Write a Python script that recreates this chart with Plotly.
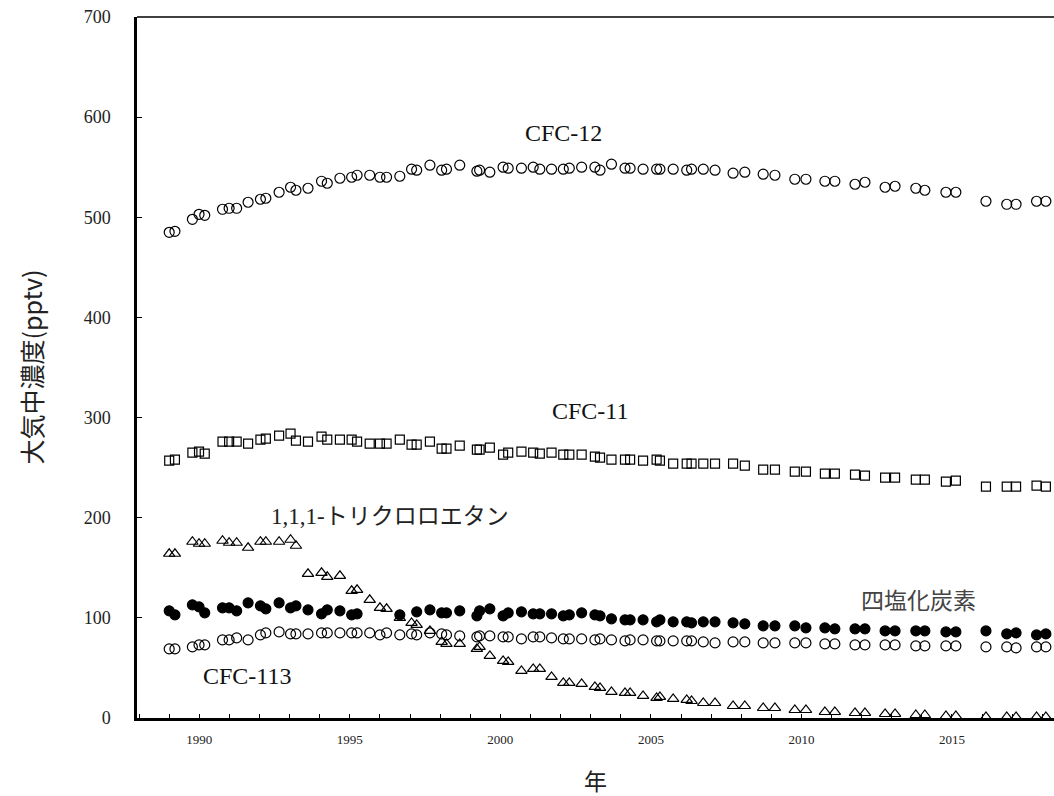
import plotly.graph_objects as go

# sampling dates (decimal years) shared by all series
dates = [1989.00, 1989.19, 1989.77, 1989.99, 1990.18, 1990.77, 1990.99, 1991.24, 1991.62,
         1992.03, 1992.21, 1992.65, 1993.03, 1993.21, 1993.61, 1994.06, 1994.25, 1994.67,
         1995.06, 1995.24, 1995.66, 1996.00, 1996.22, 1996.66, 1997.05, 1997.22, 1997.66,
         1998.05, 1998.21, 1998.65, 1999.22, 1999.31, 1999.65, 2000.09, 2000.26, 2000.70,
         2001.09, 2001.31, 2001.70, 2002.09, 2002.29, 2002.70, 2003.14, 2003.31, 2003.69,
         2004.14, 2004.31, 2004.74, 2005.19, 2005.30, 2005.74, 2006.19, 2006.35, 2006.74,
         2007.13, 2007.73, 2008.12, 2008.73, 2009.12, 2009.78, 2010.15, 2010.78, 2011.11,
         2011.78, 2012.11, 2012.78, 2013.11, 2013.80, 2014.10, 2014.80, 2015.13, 2016.13,
         2016.82, 2017.13, 2017.81, 2018.12]

cfc12 = [485, 486, 498, 503, 502, 508, 509, 509, 515,
         518, 519, 525, 530, 527, 529, 536, 534, 539,
         540, 542, 542, 540, 540, 541, 548, 547, 552,
         547, 548, 552, 546, 547, 545, 550, 549, 549,
         550, 548, 548, 548, 549, 550, 550, 547, 553,
         549, 549, 548, 548, 548, 548, 547, 548, 548,
         547, 544, 545, 543, 542, 538, 538, 536, 536,
         533, 535, 530, 531, 529, 527, 525, 525, 516,
         513, 513, 516, 516]

cfc11 = [257, 258, 265, 266, 264, 276, 276, 276, 274,
         278, 279, 282, 284, 277, 276, 281, 278, 278,
         278, 276, 274, 274, 274, 278, 273, 273, 276,
         269, 269, 272, 268, 268, 270, 263, 265, 266,
         265, 264, 265, 263, 263, 263, 261, 260, 258,
         258, 258, 257, 258, 257, 254, 254, 254, 254,
         254, 254, 252, 248, 248, 246, 246, 244, 244,
         243, 242, 240, 240, 238, 238, 236, 237, 231,
         231, 231, 232, 231]

tce = [164, 164, 176, 174, 174, 177, 175, 175, 170,
       176, 176, 176, 178, 172, 144, 145, 141, 142,
       127, 128, 118, 110, 109, 100, 95, 93, 87,
       76, 74, 74, 69, 71, 62, 57, 56, 47,
       49, 49, 41, 35, 35, 34, 31, 30, 26,
       25, 25, 22, 20, 21, 19, 18, 17, 15,
       15, 12, 12, 10, 10, 8, 8, 6, 6,
       5, 5, 4, 4, 3, 3, 2, 2, 1,
       1, 1, 1, 1]

ccl4 = [107, 103, 113, 111, 105, 110, 110, 107, 115,
        112, 109, 115, 110, 112, 108, 104, 108, 107,
        103, 104, None, None, None, 103, None, 106, 108,
        105, 105, 107, 102, 107, 109, 102, 105, 106,
        104, 104, 104, 102, 103, 105, 103, 102, 99,
        98, 98, 98, 96, 98, 96, 96, 95, 96,
        96, 95, 94, 92, 92, 92, 90, 90, 89,
        89, 89, 87, 87, 87, 87, 86, 86, 87,
        84, 85, 83, 84]

cfc113 = [69, 69, 71, 73, 73, 78, 78, 80, 78,
          83, 85, 86, 84, 84, 84, 85, 85, 85,
          85, 85, 85, 83, 85, 83, 84, 83, 85,
          84, 83, 82, 81, 82, 82, 81, 81, 79,
          81, 81, 80, 79, 79, 79, 78, 79, 78,
          77, 78, 78, 77, 77, 77, 77, 77, 76,
          75, 76, 76, 75, 75, 75, 75, 74, 74,
          73, 73, 73, 73, 72, 72, 72, 72, 71,
          71, 70, 71, 71]

year_ticks = list(range(1988, 2019))
year_labels = [str(y) if y % 5 == 0 else "" for y in year_ticks]
y_ticks = [0, 100, 200, 300, 400, 500, 600, 700]

series_labels = ["CFC-12", "CFC-11", "1,1,1-トリクロロエタン", "四塩化炭素", "CFC-113"]
label_x = [2002.11, 2002.97, 1996.33, 2013.90, 1991.58]
label_y = [584, 306.6, 201.7, 118.8, 42.4]

SERIF = "Times New Roman"
SERIF_CJK = "Times New Roman, Noto Sans CJK JP"
CJK = "Noto Sans CJK JP"

fig = go.Figure()

def add(vals, symbol, size):
    fig.add_trace(go.Scatter(
        x=dates, y=vals, mode="markers", showlegend=False,
        marker=dict(symbol=symbol, size=size, color="black",
                    line=dict(color="black", width=1.2)),
    ))

add(cfc12, "circle-open", 10)
add(cfc11, "square-open", 9)
add(cfc113, "circle-open", 10)
add(tce, "triangle-up-open", 10)
add(ccl4, "circle", 10)

fonts = [dict(family=SERIF, size=24, color="#111"),
         dict(family=SERIF, size=24, color="#111"),
         dict(family=SERIF_CJK, size=23, color="#222"),
         dict(family=CJK, size=23, color="#444"),
         dict(family=SERIF, size=24, color="#111")]
for t, xv, yv, f in zip(series_labels, label_x, label_y, fonts):
    fig.add_annotation(x=xv, y=yv, xref="x", yref="y", text=t, showarrow=False,
                       font=f, xanchor="center", yanchor="middle")

fig.add_annotation(x=0.5, y=0, xref="paper", yref="paper", text="年", showarrow=False,
                   font=dict(family=CJK, size=23, color="#222"),
                   xanchor="center", yanchor="middle", yshift=-62)
fig.add_annotation(x=0, y=0.5, xref="paper", yref="paper", text="大気中濃度(pptv)",
                   showarrow=False, textangle=-90,
                   font=dict(family=CJK, size=25, color="#222"),
                   xanchor="center", yanchor="middle", xshift=-107)

fig.add_shape(type="line", xref="paper", yref="paper", x0=0, x1=1, y0=1, y1=1,
              line=dict(color="black", width=1.5))

fig.update_xaxes(range=[1987.93, 2018.39], tickmode="array", tickvals=year_ticks,
                 ticktext=year_labels, ticks="inside", ticklen=4, tickwidth=1,
                 tickcolor="black", showline=True, linecolor="black", linewidth=2.5,
                 showgrid=False, zeroline=False,
                 tickfont=dict(family=SERIF, size=13, color="#222"),
                 ticklabelstandoff=8)
fig.update_yaxes(range=[0, 700], tickmode="array", tickvals=y_ticks,
                 ticks="inside", ticklen=5, tickwidth=1, tickcolor="black",
                 showline=True, linecolor="black", linewidth=2.5,
                 showgrid=False, zeroline=False,
                 tickfont=dict(family=SERIF, size=18, color="#222"),
                 ticklabelstandoff=20)

fig.update_layout(width=1054, height=796, plot_bgcolor="white", paper_bgcolor="white",
                  margin=dict(l=137, r=0, t=17, b=78))

fig.write_html("out.html")
